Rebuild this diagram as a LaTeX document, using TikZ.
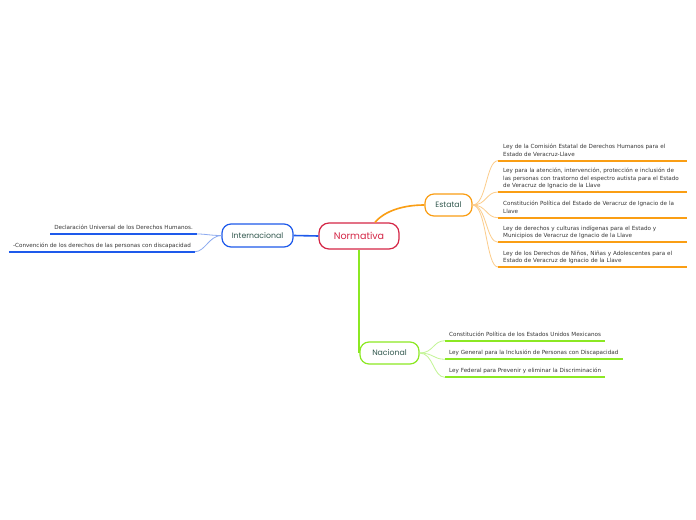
\documentclass[tikz,border=0pt]{standalone}
\usepackage{fontspec}
\setmainfont{DejaVu Sans}
\newfontfamily\mapfont{Poppins}
\newcommand\leafend{\rule[-4.3bp]{0pt}{0pt}}
\definecolor{normred}{RGB}{212,38,70}
\definecolor{estor}{RGB}{250,158,20}
\definecolor{estlight}{RGB}{252,205,140}
\definecolor{intblue}{RGB}{30,90,235}
\definecolor{intlight}{RGB}{140,170,240}
\definecolor{nacgreen}{RGB}{140,232,35}
\definecolor{naclight}{RGB}{195,245,150}
\definecolor{nodetext}{RGB}{50,88,78}
\definecolor{leaftext}{RGB}{55,55,55}
\tikzset{
  topic/.style={draw, rounded corners=9bp, line width=1.2bp, inner sep=0pt,
    font=\fontsize{7.8}{9}\mapfont, text=nodetext},
  leaf/.style={inner ysep=0pt, align=left,
    font=\fontsize{5.65}{7.3}\selectfont, text=leaftext},
  estleaf/.style={leaf, inner xsep=5bp, text width=179bp, anchor=south west},
  uline/.style={line width=1.8bp},
  twig/.style={line width=0.8bp},
  branch/.style={line width=1.6bp}
}
\begin{document}
\begin{tikzpicture}[x=1bp,y=-1bp]
\useasboundingbox[fill=white] (0,0) rectangle (696,520);
% main nodes
\node[topic, draw=normred, text=normred, font=\fontsize{9.6}{11}\mapfont,
  minimum width=80bp, minimum height=26bp, rounded corners=10bp] (norm) at (359,236) {Normativa};
\node[topic, draw=estor, minimum width=47bp, minimum height=22bp] (est) at (448.5,205) {Estatal};
\node[topic, draw=intblue, minimum width=71bp, minimum height=23bp] (intl) at (257.5,235.5) {Internacional};
\node[topic, draw=nacgreen, minimum width=59bp, minimum height=22bp] (nac) at (389.5,353) {Nacional};
% main connectors
\draw[branch, estor] ([xshift=16bp]norm.north) .. controls +(10,-12) and +(-20,0) .. (est.west);
\draw[branch, intblue] (norm.west) -- (intl.east);
\draw[branch, nacgreen, line width=2bp] (norm.south -| nac.west) -- (nac.west);
% Estatal leaves
\node[estleaf] (e1) at (498,160.7) {Ley de la Comisión Estatal de Derechos Humanos para el\\Estado de Veracruz-Llave\leafend};
\node[estleaf] (e2) at (498,192) {Ley para la atención, intervención, protección e inclusión de\\las personas con trastorno del espectro autista para el Estado\\de Veracruz de Ignacio de la Llave\leafend};
\node[estleaf] (e3) at (498,217.7) {Constitución Política del Estado de Veracruz de Ignacio de la\\Llave\leafend};
\node[estleaf] (e4) at (498,242.3) {Ley de derechos y culturas indígenas para el Estado y\\Municipios de Veracruz de Ignacio de la Llave\leafend};
\node[estleaf] (e5) at (498,267) {Ley de los Derechos de Niños, Niñas y Adolescentes para el\\Estado de Veracruz de Ignacio de la Llave\leafend};
\foreach \n in {e1,e2,e3,e4,e5}{
  \draw[uline, estor] (\n.south west) -- (\n.south east);
  \draw[twig, estlight] (est.east) .. controls +(14,0) and +(-12,0) .. (\n.south west);
}
% Internacional leaves
\node[leaf, inner xsep=4bp, anchor=south east] (i1) at (197,234) {Declaración Universal de los Derechos Humanos.\leafend};
\node[leaf, inner xsep=4bp, anchor=south east] (i2) at (195,251.7) {-Convención de los derechos de las personas con discapacidad\leafend};
\foreach \n in {i1,i2}{
  \draw[uline, intblue] (\n.south west) -- (\n.south east);
  \draw[twig, intlight] (intl.west) .. controls +(-12,0) and +(10,0) .. (\n.south east);
}
% Nacional leaves
\node[leaf, inner xsep=4bp, anchor=south west] (n1) at (445,340.7) {Constitución Política de los Estados Unidos Mexicanos\leafend};
\node[leaf, inner xsep=4bp, anchor=south west] (n2) at (445,359.3) {Ley General para la Inclusión de Personas con Discapacidad\leafend};
\node[leaf, inner xsep=4bp, anchor=south west] (n3) at (445,377.3) {Ley Federal para Prevenir y eliminar la Discriminación\leafend};
\foreach \n in {n1,n2,n3}{
  \draw[uline, nacgreen] (\n.south west) -- (\n.south east);
  \draw[twig, naclight] (nac.east) .. controls +(14,0) and +(-12,0) .. (\n.south west);
}
\end{tikzpicture}
\end{document}
